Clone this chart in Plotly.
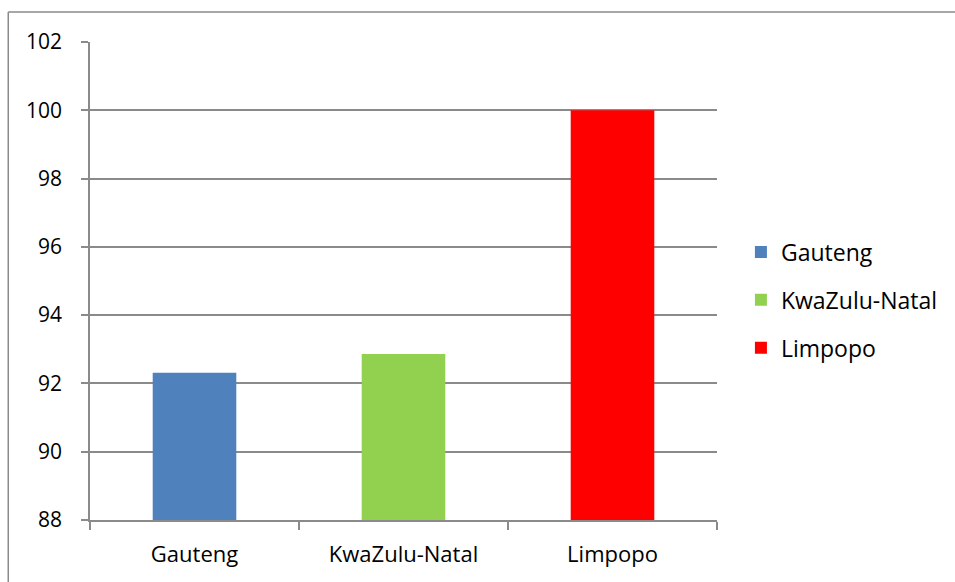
import plotly.graph_objects as go

categories = ["Gauteng", "KwaZulu-Natal", "Limpopo"]
values = [92.31, 92.86, 100.0]
colors = ["#4F81BD", "#92D050", "#FF0000"]
y_ticks = [88, 90, 92, 94, 96, 98, 100, 102]

W, H = 955, 582
L, R, T, B = 90, 236, 42, 62
pw, ph = W - L - R, H - T - B

FONT = "Open Sans"
GRID = "#8a8a8a"

fig = go.Figure()
for cat, val, col in zip(categories, values, colors):
    fig.add_trace(go.Bar(
        x=[cat], y=[val], name=cat, marker=dict(color=col, line=dict(width=0)),
        width=0.4, legendgroup=cat,
    ))

fig.update_layout(
    width=W, height=H,
    margin=dict(l=L, r=R, t=T, b=B),
    paper_bgcolor="white", plot_bgcolor="white",
    barmode="overlay",
    font=dict(family=FONT, size=22, color="#000000"),
    showlegend=True,
    legend=dict(
        x=(743 - L) / pw, xanchor="left",
        y=(H - B - 300) / ph, yanchor="middle",
        font=dict(family=FONT, size=23),
        tracegroupgap=15,
        traceorder="grouped",
        bgcolor="rgba(0,0,0,0)",
    ),
    xaxis=dict(
        type="category", categoryorder="array", categoryarray=categories,
        showline=True, linecolor=GRID, linewidth=1.5,
        ticks="outside", tickson="boundaries", ticklen=8, tickwidth=1.5, tickcolor=GRID,
        showgrid=False, ticklabelstandoff=14,
        tickfont=dict(family=FONT, size=22),
    ),
    yaxis=dict(
        range=[88, 102], tickvals=y_ticks, ticktext=[str(v) for v in y_ticks],
        showline=True, linecolor=GRID, linewidth=1.5,
        ticks="outside", ticklen=7, tickwidth=1.5, tickcolor=GRID,
        showgrid=True, gridcolor=GRID, gridwidth=1.5,
        zeroline=False, ticklabelstandoff=15,
        tickfont=dict(family=FONT, size=21),
    ),
    shapes=[
        dict(type="line", xref="paper", yref="paper",
             x0=(8 - L) / pw, x1=(8 - L) / pw, y0=(H - B - 600) / ph, y1=(H - B - 12) / ph,
             line=dict(color=GRID, width=1.5)),
        dict(type="line", xref="paper", yref="paper",
             x0=(8 - L) / pw, x1=(1000 - L) / pw, y0=(H - B - 12) / ph, y1=(H - B - 12) / ph,
             line=dict(color=GRID, width=1.5)),
    ],
)

fig.write_html("out.html")
